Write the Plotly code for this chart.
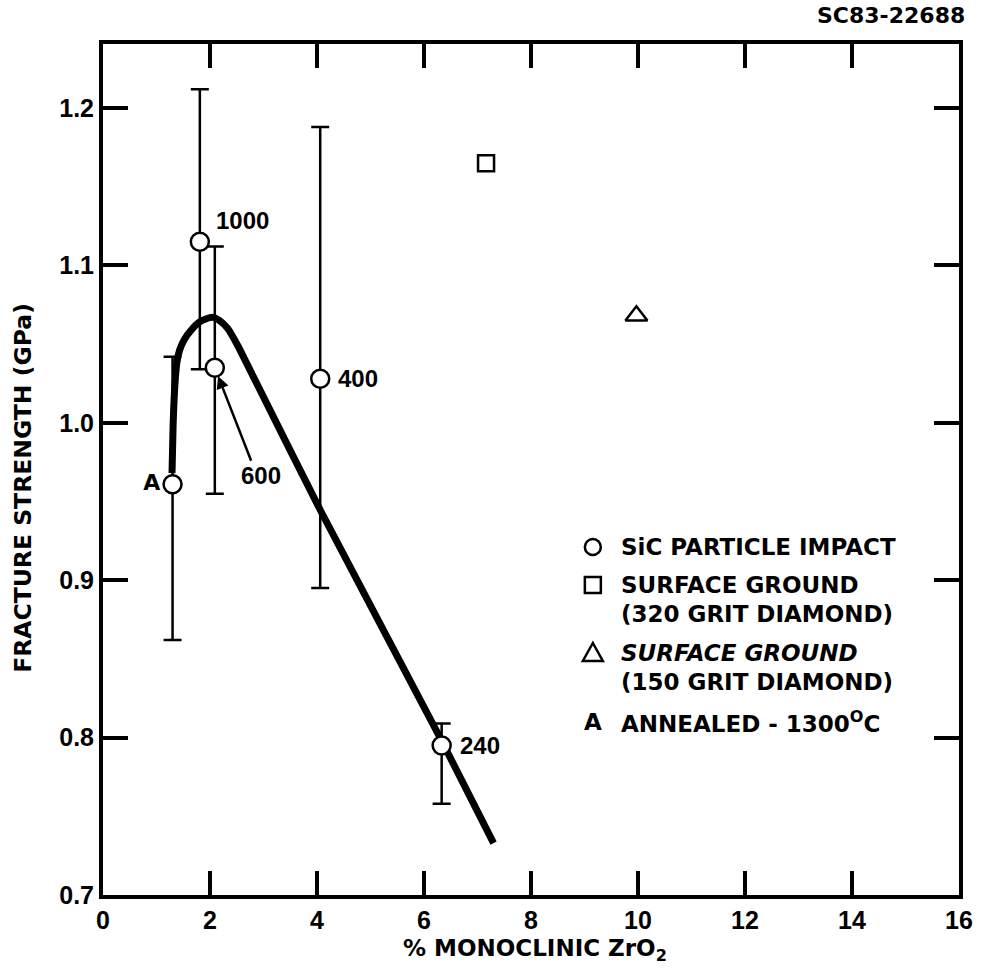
import plotly.graph_objects as go

# ---- data ----
sic_x = [1.81, 2.09, 4.06, 6.33]
sic_y = [1.115, 1.035, 1.028, 0.795]
sic_hi = [1.212, 1.112, 1.188, 0.809]
sic_lo = [1.034, 0.955, 0.895, 0.758]
sic_labels = ["1000", "600", "400", "240"]

ann_x = [1.30]
ann_y = [0.961]
ann_hi = [1.042]
ann_lo = [0.862]

sq_x = [7.16]
sq_y = [1.165]
tri_x = [9.97]
tri_y = [1.068]

curve_x = [1.29, 1.31, 1.34, 1.38, 1.43, 1.52, 1.65, 1.80, 1.92, 2.05, 2.18, 2.33, 2.52, 2.80, 4.07, 6.30, 7.30]
curve_y = [0.968, 0.998, 1.022, 1.038, 1.046, 1.053, 1.059, 1.064, 1.066, 1.067, 1.065, 1.060, 1.049, 1.030, 0.944, 0.800, 0.733]

x_ticks = [0, 2, 4, 6, 8, 10, 12, 14, 16]
y_ticks = [0.7, 0.8, 0.9, 1.0, 1.1, 1.2]
y_tick_text = ["0.7", "0.8", "0.9", "1.0", "1.1", "1.2"]

legend_items = [
    ("circle", ["SiC PARTICLE IMPACT"]),
    ("square", ["SURFACE GROUND", "(320 GRIT DIAMOND)"]),
    ("triangle", ["<i>SURFACE GROUND</i>", "(150 GRIT DIAMOND)"]),
    ("A", ["ANNEALED - 1300<sup>O</sup>C"]),
]

NUMFONT = "Liberation Sans"
TXTFONT = "DejaVu Sans"
W, H = 985, 978
L, R, T, B = 103, 17, 44, 83

def px_x(p):
    return (p - L) / (W - L - R)

def px_y(p):
    return (H - B - p) / (H - T - B)

fig = go.Figure()

fig.add_trace(go.Scatter(x=curve_x, y=curve_y, mode="lines",
                         line=dict(color="black", width=7, shape="spline", smoothing=0.6),
                         hoverinfo="skip", showlegend=False))

def err(vals, hi, lo):
    return dict(type="data", symmetric=False,
                array=[h - v for h, v in zip(hi, vals)],
                arrayminus=[v - l for v, l in zip(vals, lo)],
                color="black", thickness=2.5, width=9)

fig.add_trace(go.Scatter(x=ann_x, y=ann_y, mode="markers+text", text=["<b>A</b>"],
                         textposition="middle left",
                         textfont=dict(family=TXTFONT, size=22, color="black"),
                         error_y=err(ann_y, ann_hi, ann_lo),
                         marker=dict(symbol="circle", size=18, color="white",
                                     line=dict(color="black", width=2.5)),
                         showlegend=False))

fig.add_trace(go.Scatter(x=sic_x, y=sic_y, mode="markers",
                         error_y=err(sic_y, sic_hi, sic_lo),
                         marker=dict(symbol="circle", size=18, color="white",
                                     line=dict(color="black", width=2.5)),
                         showlegend=False))

fig.add_trace(go.Scatter(x=sq_x, y=sq_y, mode="markers",
                         marker=dict(symbol="square", size=16, color="white",
                                     line=dict(color="black", width=2.5)),
                         showlegend=False))

fig.add_trace(go.Scatter(x=tri_x, y=tri_y, mode="markers",
                         marker=dict(symbol="triangle-up", size=19, color="white",
                                     line=dict(color="black", width=2.5)),
                         showlegend=False))

annotations = []
# data labels
lab_font = dict(family=NUMFONT, size=24, color="black")
annotations.append(dict(x=sic_x[0], y=sic_y[0], text="<b>" + sic_labels[0] + "</b>", showarrow=False,
                        xanchor="left", yanchor="bottom", xshift=14, yshift=6, font=lab_font))
annotations.append(dict(x=sic_x[2], y=sic_y[2], text="<b>" + sic_labels[2] + "</b>", showarrow=False,
                        xanchor="left", yanchor="middle", xshift=16, font=lab_font))
annotations.append(dict(x=sic_x[3], y=sic_y[3], text="<b>" + sic_labels[3] + "</b>", showarrow=False,
                        xanchor="left", yanchor="middle", xshift=16, font=lab_font))
annotations.append(dict(x=sic_x[1], y=sic_y[1], ax=2.78, ay=0.975, axref="x", ayref="y",
                        text="", showarrow=True, arrowhead=2, arrowsize=1, arrowwidth=2.5,
                        arrowcolor="black", standoff=9))
annotations.append(dict(x=2.80, y=0.974, text="<b>" + sic_labels[1] + "</b>", showarrow=False,
                        xanchor="left", yanchor="top", xshift=-14, yshift=4, font=lab_font))

# legend
sym_x = px_x(598)
txt_x = px_x(624)
rows = [547, 585, 653, 722]
shapes = []
leg_font = dict(family=TXTFONT, size=23, color="black")
for (sym, lines), ry in zip(legend_items, rows):
    yy = px_y(ry)
    if sym == "circle":
        shapes.append(dict(type="circle", xref="paper", yref="paper", xsizemode="pixel",
                           ysizemode="pixel", xanchor=sym_x, yanchor=yy,
                           x0=-8, x1=8, y0=-8, y1=8, line=dict(color="black", width=2.5)))
    elif sym == "square":
        shapes.append(dict(type="rect", xref="paper", yref="paper", xsizemode="pixel",
                           ysizemode="pixel", xanchor=sym_x, yanchor=yy,
                           x0=-8, x1=8, y0=-8, y1=8, line=dict(color="black", width=2.5)))
    elif sym == "triangle":
        shapes.append(dict(type="path", xref="paper", yref="paper", xsizemode="pixel",
                           ysizemode="pixel", xanchor=sym_x, yanchor=yy,
                           path="M -10 -8 L 10 -8 L 0 10 Z", line=dict(color="black", width=2.5)))
    else:
        annotations.append(dict(x=sym_x, y=yy, xref="paper", yref="paper", text="<b>A</b>",
                                showarrow=False, xanchor="center", yanchor="middle",
                                font=dict(family=TXTFONT, size=23, color="black")))
    for i, ln in enumerate(lines):
        annotations.append(dict(x=txt_x, y=px_y(ry + 29 * i), xref="paper", yref="paper",
                                text="<b>" + ln + "</b>", showarrow=False,
                                xanchor="left", yanchor="middle", font=leg_font))

# titles
annotations.append(dict(x=px_x(22), y=px_y(488), xref="paper", yref="paper",
                        xanchor="center", yanchor="middle",
                        text="<b>FRACTURE STRENGTH (GPa)</b>", textangle=-90, showarrow=False,
                        font=dict(family=TXTFONT, size=23.5, color="black")))
annotations.append(dict(x=px_x(540), y=px_y(950), xref="paper", yref="paper",
                        xanchor="center", yanchor="middle",
                        text="<b>% MONOCLINIC ZrO<sub>2</sub></b>", showarrow=False,
                        font=dict(family=TXTFONT, size=23, color="black")))
annotations.append(dict(x=px_x(976), y=px_y(15), xref="paper", yref="paper",
                        text="<b>SC83-22688</b>", showarrow=False, xanchor="right", yanchor="middle",
                        font=dict(family=TXTFONT, size=22, color="black")))

fig.update_layout(
    width=W, height=H,
    margin=dict(l=L, r=R, t=T, b=B),
    paper_bgcolor="white", plot_bgcolor="white",
    showlegend=False,
    annotations=annotations,
    shapes=shapes,
    xaxis=dict(range=[0, 16], tickvals=x_ticks, ticktext=["<b>%d</b>" % v for v in x_ticks],
               showline=True, linewidth=4, linecolor="black", mirror="ticks",
               ticks="inside", ticklen=24, tickwidth=4, tickcolor="black",
               showgrid=False, zeroline=False,
               tickfont=dict(family=NUMFONT, size=25, color="black")),
    yaxis=dict(range=[0.7, 1.2407], tickvals=y_ticks, ticktext=["<b>%s</b>" % t for t in y_tick_text],
               showline=True, linewidth=4, linecolor="black", mirror="ticks",
               ticks="inside", ticklen=25, tickwidth=4, tickcolor="black",
               showgrid=False, zeroline=False,
               tickfont=dict(family=NUMFONT, size=25, color="black")),
)

fig.write_html("out.html")
